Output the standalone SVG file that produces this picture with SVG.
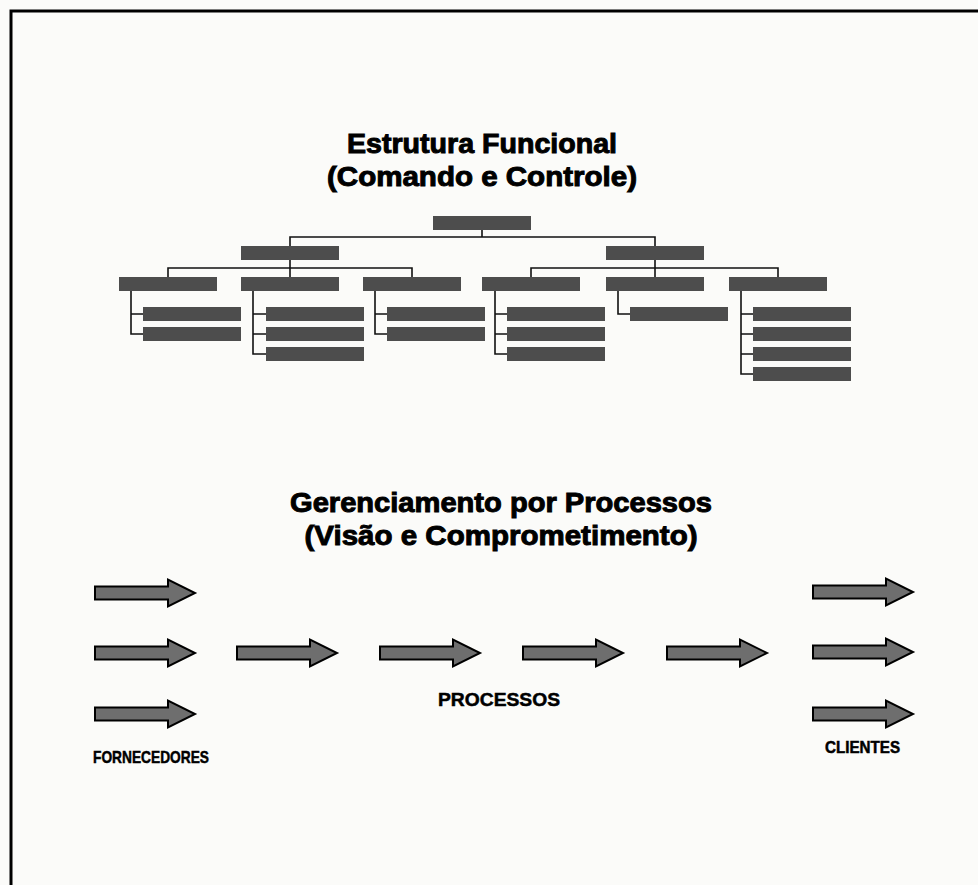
<svg xmlns="http://www.w3.org/2000/svg" width="978" height="885" viewBox="0 0 978 885">
  <defs>
    <style>
      .title { font-family: "Liberation Sans", Arial, Helvetica, sans-serif; font-weight: bold; font-size: 28px; fill: #000; stroke: #000; stroke-width: 1px; text-anchor: middle; }
      .label { font-family: "Liberation Sans", Arial, Helvetica, sans-serif; font-weight: bold; fill: #000; stroke: #000; stroke-width: 0.5px; }
      .box { fill: #4d4d4d; }
      .link { fill: none; stroke: #111; stroke-width: 1.6; }
      .arrow { fill: #6e6e6e; stroke: #000; stroke-width: 2; stroke-linejoin: miter; }
    </style>
    <!-- block arrow, 100 wide, centred on y = 0 -->
    <path id="blockArrow" class="arrow" d="M0,-6.5 H73 V-13.5 L100,0 L73,13.5 V6.5 H0 Z"/>
  </defs>

  <rect width="978" height="885" fill="#fbfbf9"/>
  <!-- frame: top and left edges -->
  <path d="M11,885 V11 H978" fill="none" stroke="#000" stroke-width="3"/>

  <!-- headings -->
  <g id="title-funcional">
    <text class="title" x="482" y="153" textLength="270" lengthAdjust="spacingAndGlyphs">Estrutura Funcional</text>
    <text class="title" x="482" y="186" textLength="310" lengthAdjust="spacingAndGlyphs">(Comando e Controle)</text>
  </g>
  <g id="title-processos">
    <text class="title" x="501" y="512" textLength="422" lengthAdjust="spacingAndGlyphs">Gerenciamento por Processos</text>
    <text class="title" x="501" y="545" textLength="393" lengthAdjust="spacingAndGlyphs">(Visão e Comprometimento)</text>
  </g>

  <!-- org chart connectors -->
  <g id="connectors" class="link">
    <path d="M482,230 V237 M290,246 V237 H655 V246"/>
    <path d="M290,260 V268 M168,277 V268 H412 V277 M290,268 V277"/>
    <path d="M655,260 V268 M531,277 V268 H778 V277 M655,268 V277"/>
    <!-- child brackets -->
    <path d="M131,291 V334 H143 M131,314 H143"/>
    <path d="M253,291 V354 H266 M253,314 H266 M253,334 H266"/>
    <path d="M375,291 V334 H387 M375,314 H387"/>
    <path d="M495,291 V354 H507 M495,314 H507 M495,334 H507"/>
    <path d="M618,291 V314 H630"/>
    <path d="M741,291 V374 H753 M741,314 H753 M741,334 H753 M741,354 H753"/>
  </g>

  <!-- org chart boxes -->
  <g id="node-root"><rect class="box" x="433" y="216" width="98" height="14"/></g>
  <g id="node-l2-left"><rect class="box" x="241" y="246" width="98" height="14"/></g>
  <g id="node-l2-right"><rect class="box" x="606" y="246" width="98" height="14"/></g>

  <g id="node-a">
    <rect class="box" x="119" y="277" width="98" height="14"/>
    <rect class="box" x="143" y="307" width="98" height="14"/>
    <rect class="box" x="143" y="327" width="98" height="14"/>
  </g>
  <g id="node-b">
    <rect class="box" x="241" y="277" width="98" height="14"/>
    <rect class="box" x="266" y="307" width="98" height="14"/>
    <rect class="box" x="266" y="327" width="98" height="14"/>
    <rect class="box" x="266" y="347" width="98" height="14"/>
  </g>
  <g id="node-c">
    <rect class="box" x="363" y="277" width="98" height="14"/>
    <rect class="box" x="387" y="307" width="98" height="14"/>
    <rect class="box" x="387" y="327" width="98" height="14"/>
  </g>
  <g id="node-d">
    <rect class="box" x="482" y="277" width="98" height="14"/>
    <rect class="box" x="507" y="307" width="98" height="14"/>
    <rect class="box" x="507" y="327" width="98" height="14"/>
    <rect class="box" x="507" y="347" width="98" height="14"/>
  </g>
  <g id="node-e">
    <rect class="box" x="606" y="277" width="98" height="14"/>
    <rect class="box" x="630" y="307" width="98" height="14"/>
  </g>
  <g id="node-f">
    <rect class="box" x="729" y="277" width="98" height="14"/>
    <rect class="box" x="753" y="307" width="98" height="14"/>
    <rect class="box" x="753" y="327" width="98" height="14"/>
    <rect class="box" x="753" y="347" width="98" height="14"/>
    <rect class="box" x="753" y="367" width="98" height="14"/>
  </g>

  <!-- process flow -->
  <g id="fornecedores">
    <use href="#blockArrow" x="95" y="593"/>
    <use href="#blockArrow" x="95" y="653"/>
    <use href="#blockArrow" x="95" y="714"/>
    <text class="label" x="93" y="763" font-size="17" textLength="116" lengthAdjust="spacingAndGlyphs">FORNECEDORES</text>
  </g>
  <g id="processos">
    <use href="#blockArrow" x="237" y="653"/>
    <use href="#blockArrow" x="380" y="653"/>
    <use href="#blockArrow" x="523" y="653"/>
    <use href="#blockArrow" x="667" y="653"/>
    <text class="label" x="438" y="706" font-size="19" textLength="122" lengthAdjust="spacingAndGlyphs">PROCESSOS</text>
  </g>
  <g id="clientes">
    <use href="#blockArrow" x="813" y="592"/>
    <use href="#blockArrow" x="813" y="652"/>
    <use href="#blockArrow" x="813" y="714"/>
    <text class="label" x="825" y="753" font-size="16" textLength="75" lengthAdjust="spacingAndGlyphs">CLIENTES</text>
  </g>
</svg>
